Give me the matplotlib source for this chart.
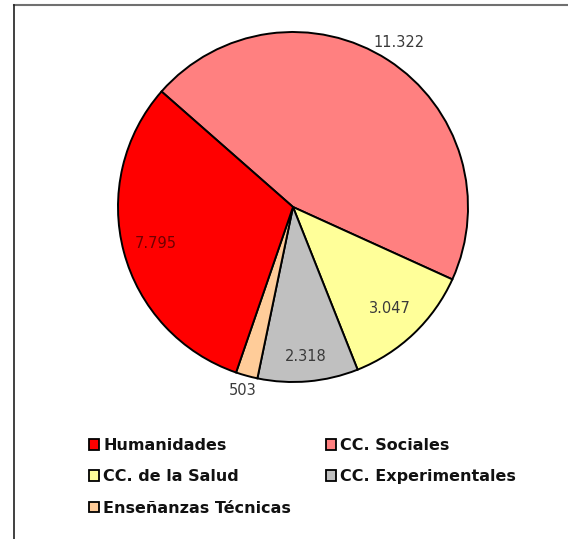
import matplotlib
matplotlib.use("Agg")
import matplotlib.pyplot as plt
import numpy as np
from matplotlib.patches import Rectangle
from matplotlib.lines import Line2D

# slices in drawing order (clockwise from upper-left)
categories = ["CC. Sociales", "CC. de la Salud", "CC. Experimentales",
              "Enseñanzas Técnicas", "Humanidades"]
values = [11322, 3047, 2318, 503, 7795]
colors = ["#FF8080", "#FFFF99", "#C0C0C0", "#FFCC99", "#FF0000"]
label_dist = [1.12, 0.80, 0.86, 1.09, 0.81]
label_colors = ["#3a3a3a", "#3a3a3a", "#3a3a3a", "#3a3a3a", "#700000"]
legend_order = ["Humanidades", "CC. de la Salud", "Enseñanzas Técnicas",
                "CC. Sociales", "CC. Experimentales"]

W, H = 568, 539
fig = plt.figure(figsize=(W / 100, H / 100), dpi=100)
fig.patch.set_facecolor("white")

# pie axes: center (293, 207) px, radius 175 px
cx, cy, r = 293, 207, 175
ax = fig.add_axes([(cx - r) / W, (H - cy - r) / H, 2 * r / W, 2 * r / H])
wedges, _ = ax.pie(values, colors=colors, startangle=138.7, counterclock=False,
                   wedgeprops=dict(edgecolor="black", linewidth=1.4))
ax.set_xlim(-1, 1)
ax.set_ylim(-1, 1)
ax.set_aspect("equal")
ax.axis("off")

for w, v, d, c in zip(wedges, values, label_dist, label_colors):
    mid = np.deg2rad((w.theta1 + w.theta2) / 2)
    ax.text(d * np.cos(mid), d * np.sin(mid), f"{v:,}".replace(",", "."),
            ha="center", va="center", fontsize=10.5, color=c)

# legend, two columns filled row by row
handles = [Rectangle((0, 0), 1, 1, facecolor=colors[categories.index(n)],
                     edgecolor="black", linewidth=1.3) for n in legend_order]
leg = fig.legend(handles, legend_order, loc="upper left",
                 bbox_to_anchor=(89 / W, 1 - 438 / H), ncol=2, frameon=False,
                 prop=dict(size=11.5, weight="bold"), handlelength=0.65,
                 handleheight=0.65, handletextpad=0.25, labelspacing=1.02,
                 columnspacing=2.15, borderpad=0, borderaxespad=0)
for t in leg.get_texts():
    t.set_color("#111111")

# frame lines (top and left)
fig.add_artist(Line2D([14 / W, 1], [1 - 5 / H, 1 - 5 / H], color="#707070", linewidth=1.5))
fig.add_artist(Line2D([14 / W, 14 / W], [0, 1 - 5 / H], color="#202020", linewidth=1.2))

plt.savefig("out.png", dpi=100)
plt.close()
